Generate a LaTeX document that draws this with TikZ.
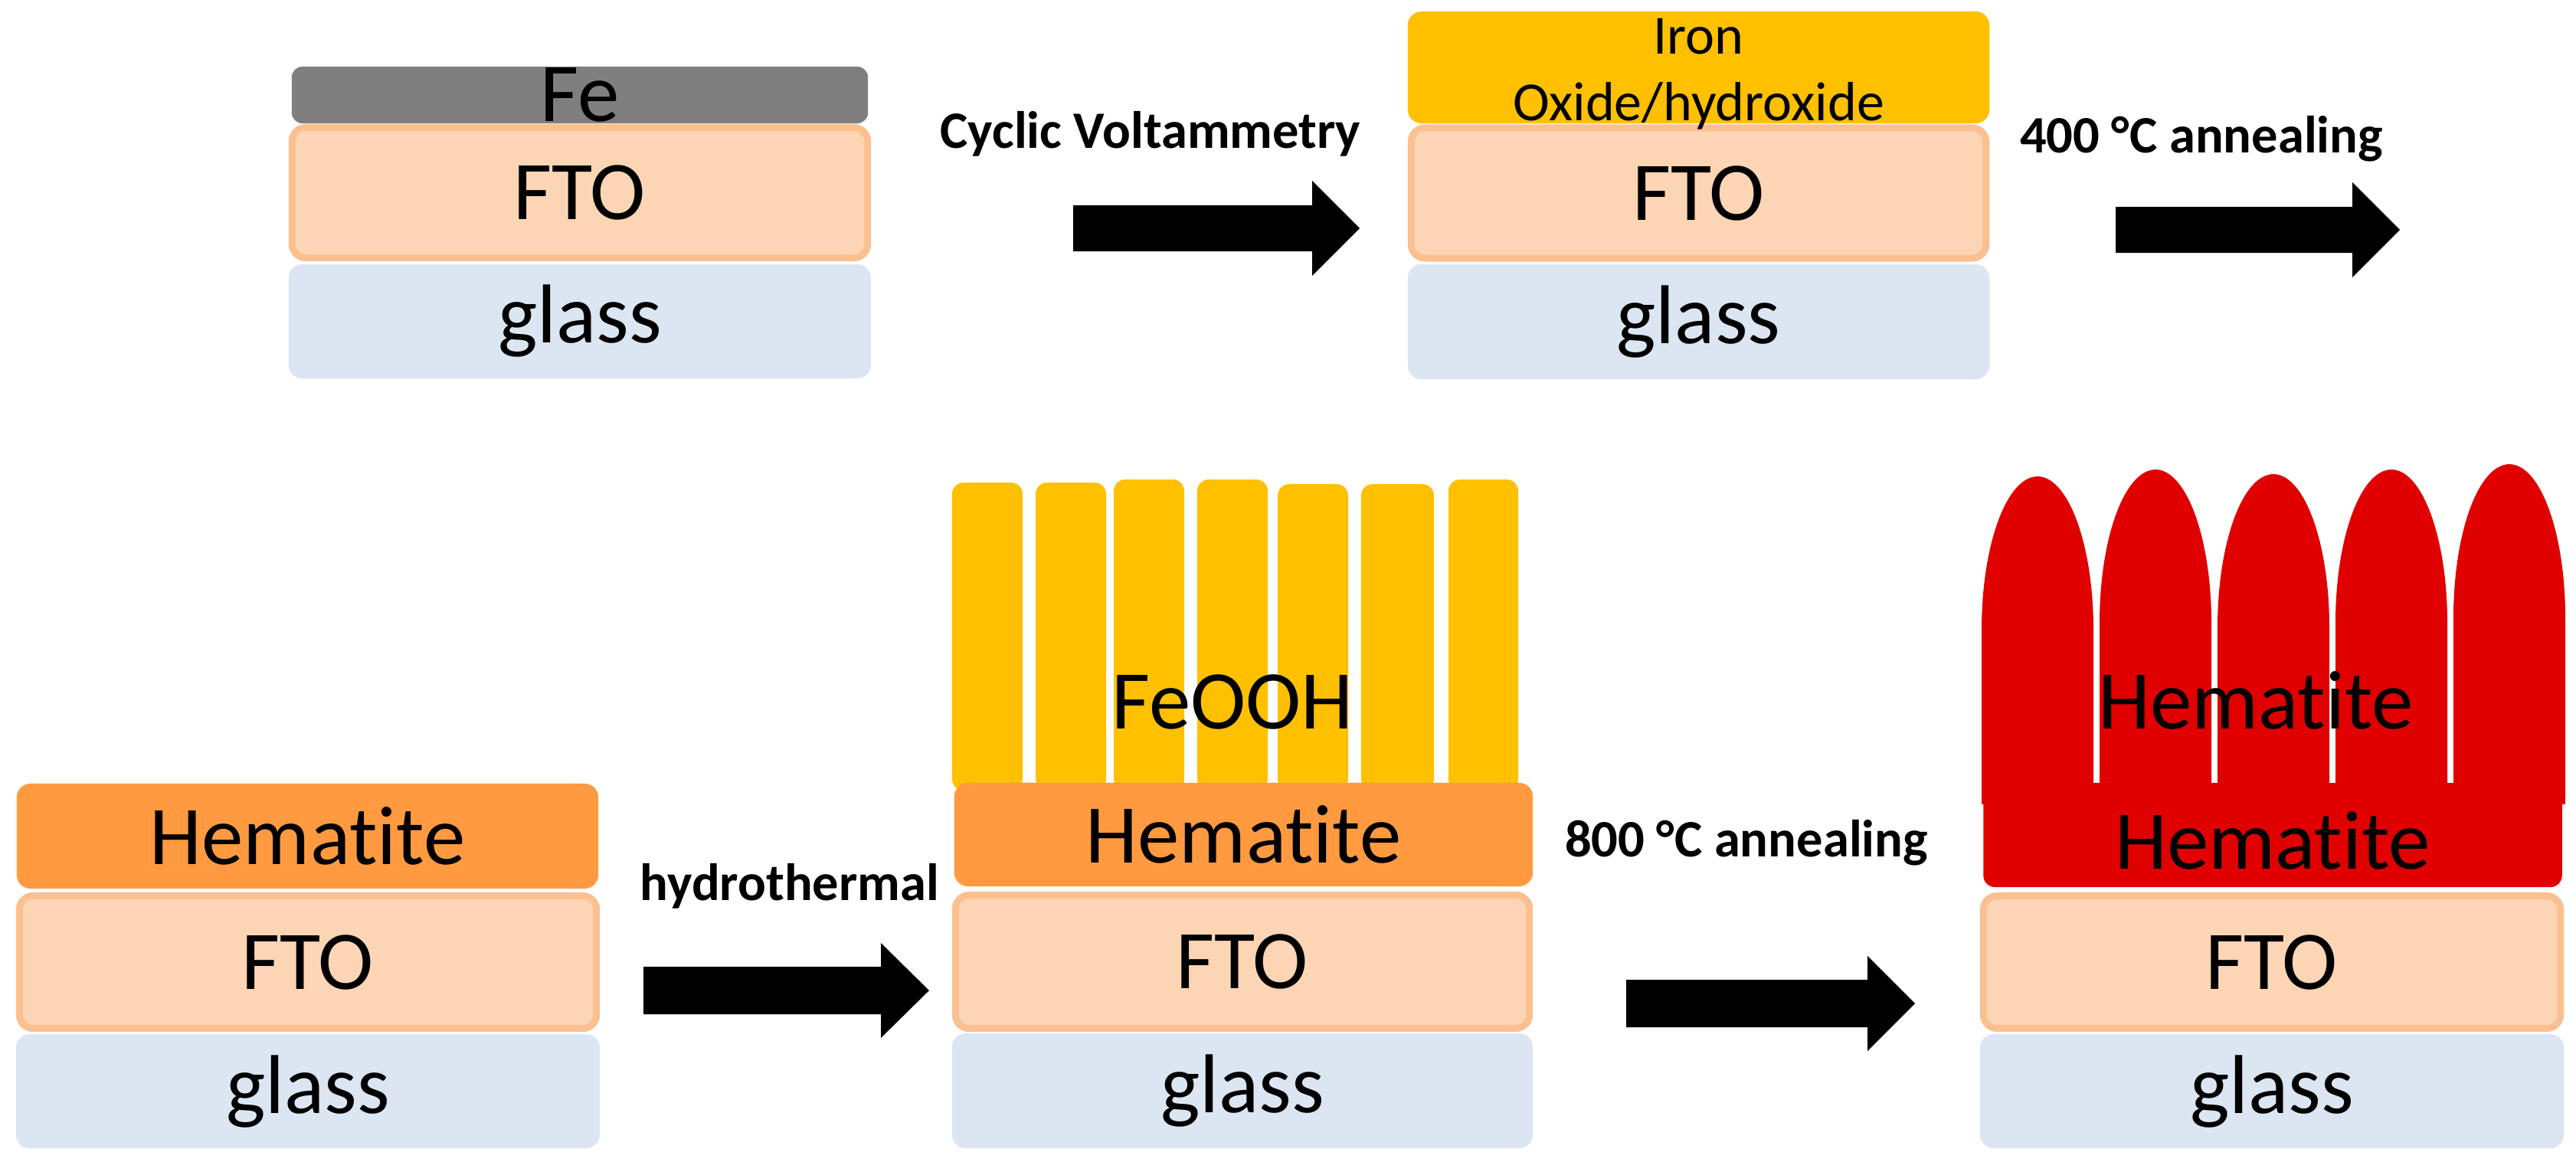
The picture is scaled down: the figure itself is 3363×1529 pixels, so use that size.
\documentclass[tikz,border=0pt]{standalone}
\usepackage{fontspec}
\setmainfont{Carlito}[Ligatures=NoCommon]
\definecolor{fegray}{HTML}{7F7F7F}
\definecolor{ftofill}{HTML}{FCD5B5}
\definecolor{ftoline}{HTML}{FAC090}
\definecolor{glassfill}{HTML}{DCE6F2}
\definecolor{oxyellow}{HTML}{FFC000}
\definecolor{hemorange}{HTML}{FF9A40}
\definecolor{hemred}{HTML}{E00000}
\newcommand{\hemword}{Hemat\kern0pt ite}
\begin{document}
\begin{tikzpicture}[x=0.01cm,y=-0.01cm,
  layer/.style={rectangle, inner sep=0pt, outer sep=0pt, rounded corners=0.18cm, font=\fontsize{31}{37}\selectfont},
  felayer/.style={layer, fill=fegray, rounded corners=0.14cm},
  ftolayer/.style={layer, fill=ftofill, draw=ftoline, line width=0.09cm},
  glasslayer/.style={layer, fill=glassfill},
  oxlayer/.style={layer, fill=oxyellow},
  hemlayer/.style={layer, fill=hemorange},
  redlayer/.style={layer, fill=hemred, rounded corners=0.15cm},
  rod/.style={fill=oxyellow, rounded corners=0.15cm},
  dome/.style={fill=hemred},
  steplabel/.style={font=\fontsize{19.5}{23}\selectfont\bfseries, inner sep=0pt, anchor=base},
  bigtext/.style={font=\fontsize{31}{37}\selectfont, inner sep=0pt},
  smalltext/.style={font=\fontsize{20.5}{25}\selectfont, inner sep=0pt, anchor=base},
  blockarrow/.style={fill=black},
]
\useasboundingbox[fill=white] (0,0) rectangle (3363,1529);

% ---------- Stack A (Fe / FTO / glass) ----------
\node[ftolayer, minimum width=7.51cm, minimum height=1.70cm] (ftoA) at (757,251.5) {FTO};
\node[felayer, minimum width=7.52cm, minimum height=0.74cm] (feA) at (757,124) {Fe};
\node[glasslayer, minimum width=7.60cm, minimum height=1.49cm] (glassA) at (757,419.5) {glass};

% ---------- Arrow 1 ----------
\node[steplabel] (cv) at (1502,193) {Cyclic Voltammetry};
\fill[blockarrow] (1401,268) -- (1713,268) -- (1713,236) -- (1775,298) -- (1713,360) -- (1713,328) -- (1401,328) -- cycle;

% ---------- Stack B (iron oxide / FTO / glass) ----------
\node[oxlayer, minimum width=7.59cm, minimum height=1.46cm] (oxB) at (2217.5,88) {};
\node[ftolayer, minimum width=7.50cm, minimum height=1.70cm] (ftoB) at (2217.5,252) {FTO};
\node[glasslayer, minimum width=7.59cm, minimum height=1.50cm] (glassB) at (2217.5,420) {glass};
\node[smalltext] (ironB) at (2217.5,70) {Iron};
\node[smalltext] (oxtextB) at (2217.5,157) {Oxide/hydroxide};

% ---------- Arrow 2 ----------
\node[steplabel] (ann400) at (2874,199) {400 °C annealing};
\fill[blockarrow] (2762,270) -- (3071,270) -- (3071,238) -- (3133,300) -- (3071,362) -- (3071,330) -- (2762,330) -- cycle;

% ---------- Stack C (hematite / FTO / glass) ----------
\node[ftolayer, minimum width=7.53cm, minimum height=1.73cm] (ftoC) at (402,1256) {FTO};
\node[hemlayer, minimum width=7.59cm, minimum height=1.37cm] (hemC) at (401.5,1091.5) {\hemword};
\node[glasslayer, minimum width=7.62cm, minimum height=1.49cm] (glassC) at (402,1424.5) {glass};

% ---------- Arrow 3 ----------
\node[steplabel] (hydro) at (1031,1175) {hydrothermal};
\fill[blockarrow] (840,1262) -- (1150,1262) -- (1150,1231) -- (1213,1293) -- (1150,1355) -- (1150,1324) -- (840,1324) -- cycle;

% ---------- Stack D (FeOOH rods / hematite / FTO / glass) ----------
\foreach \a/\b/\t in {1243/1335/630, 1352/1444/630, 1454/1546/626, 1563/1655/626, 1668/1760/632, 1777/1872/632, 1891/1982/626}
  \fill[rod] (\a,\t) rectangle (\b,1032);
\node[bigtext] (feooh) at (1609,916) {FeOOH};
\node[ftolayer, minimum width=7.49cm, minimum height=1.74cm] (ftoD) at (1622,1255.5) {FTO};
\node[hemlayer, minimum width=7.55cm, minimum height=1.35cm] (hemD) at (1623.5,1089.5) {\hemword};
\node[glasslayer, minimum width=7.58cm, minimum height=1.50cm] (glassD) at (1622,1424) {glass};

% ---------- Arrow 4 ----------
\node[steplabel] (ann800) at (2280,1118) {800 °C annealing};
\fill[blockarrow] (2123,1279) -- (2438,1279) -- (2438,1248) -- (2500,1310) -- (2438,1372) -- (2438,1341) -- (2123,1341) -- cycle;

% ---------- Stack E (hematite domes / hematite / FTO / glass) ----------
\foreach \L/\T in {2587/622, 2741/613, 2895/619, 3049/613, 3203/606}
  \fill[dome] (\L,1040) -- (\L,\T+200) .. controls (\L,\T+89.5) and (\L+32.7,\T) .. (\L+73,\T)
     .. controls (\L+113.3,\T) and (\L+146,\T+89.5) .. (\L+146,\T+200) -- (\L+146,1040) -- cycle;
\fill[hemred] (2587,1022) rectangle (3349,1050);
\node[bigtext] (hemtopE) at (2945,914) {\hemword};
\node[ftolayer, minimum width=7.53cm, minimum height=1.73cm] (ftoE) at (2966,1256) {FTO};
\node[redlayer, minimum width=7.55cm, minimum height=1.22cm] (hemE) at (2967,1097) {\hemword};
\node[glasslayer, minimum width=7.62cm, minimum height=1.49cm] (glassE) at (2966,1424.5) {glass};
\end{tikzpicture}
\end{document}
